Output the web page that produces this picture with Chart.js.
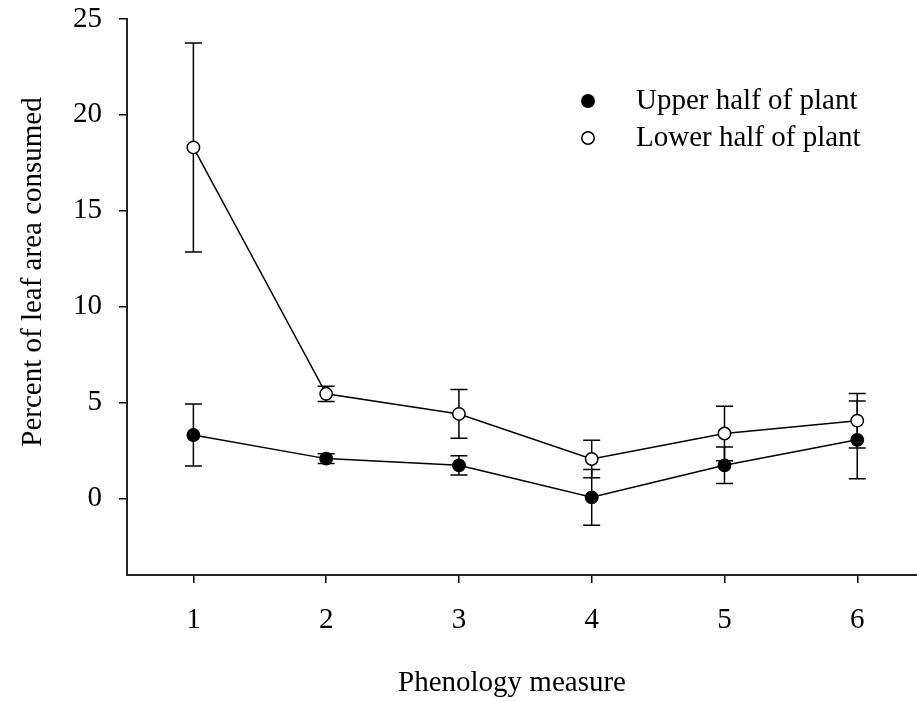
<!DOCTYPE html>
<html>
<head>
<meta charset="utf-8">
<script src="https://cdn.jsdelivr.net/npm/chart.js@4/dist/chart.umd.min.js"></script>
<style>
  html, body { margin: 0; padding: 0; background: #fff; }
  #wrap { width: 917px; height: 702px; }
</style>
</head>
<body>
<div id="wrap"><canvas id="leafChart" width="917" height="702"></canvas></div>
<script>
const phenology = [1, 2, 3, 4, 5, 6];
const upperMean = [3.3, 2.07, 1.72, 0.05, 1.72, 3.05];
const upperErr = [1.62, 0.25, 0.5, 1.45, 0.95, 2.03];
const lowerMean = [18.3, 5.45, 4.4, 2.05, 3.38, 4.05];
const lowerErr = [5.45, 0.4, 1.27, 0.98, 1.42, 1.42];
const yTicks = [0, 5, 10, 15, 20, 25];
const xTitle = "Phenology measure";
const yTitle = "Percent of leaf area consumed";

const FONT = "'Liberation Serif', 'Times New Roman', serif";
const SIZE = 29;

function toPoints(means){
    return phenology.map((x, i) => ({ x: x, y: means[i] }));
}

// vertical error bars with caps, drawn under the markers
const errorBars = {
    id: "errorBars",
    beforeDatasetsDraw(chart){
        const ctx = chart.ctx;
        const yScale = chart.scales.y;
        ctx.save();
        ctx.strokeStyle = "#000";
        ctx.lineWidth = 1.5;
        chart.data.datasets.forEach((ds, i) => {
            const meta = chart.getDatasetMeta(i);
            meta.data.forEach((pt, j) => {
                const m = ds.data[j].y;
                const e = ds.errors[j];
                const top = yScale.getPixelForValue(m + e);
                const bot = yScale.getPixelForValue(m - e);
                ctx.beginPath();
                ctx.moveTo(pt.x, top);
                ctx.lineTo(pt.x, bot);
                ctx.moveTo(pt.x - 8.5, top);
                ctx.lineTo(pt.x + 8.5, top);
                ctx.moveTo(pt.x - 8.5, bot);
                ctx.lineTo(pt.x + 8.5, bot);
                ctx.stroke();
            });
        });
        ctx.restore();
    }
};

// legend in the upper right of the plot, plus both axis titles
const annotations = {
    id: "annotations",
    afterDraw(chart){
        const ctx = chart.ctx;
        const rows = [101, 138];
        ctx.save();
        ctx.font = SIZE + "px " + FONT;
        ctx.textBaseline = "middle";
        ctx.textAlign = "left";
        chart.data.datasets.forEach((ds, i) => {
            const y = rows[i];
            ctx.beginPath();
            ctx.arc(588, y, 6.2, 0, Math.PI * 2);
            ctx.fillStyle = ds.pointBackgroundColor;
            ctx.fill();
            ctx.lineWidth = 1.5;
            ctx.strokeStyle = "#000";
            ctx.stroke();
            ctx.fillStyle = "#000";
            ctx.fillText(ds.label, 636, y);
        });

        ctx.textAlign = "center";
        ctx.fillText(xTitle, 512, 683);

        ctx.translate(33, 272);
        ctx.rotate(-Math.PI / 2);
        ctx.fillText(yTitle, 0, 0);
        ctx.restore();
    }
};

new Chart(document.getElementById("leafChart"), {
    type: "line",
    data: {
        datasets: [
            {
                label: "Upper half of plant",
                data: toPoints(upperMean),
                errors: upperErr,
                borderColor: "#000",
                borderWidth: 1.5,
                pointRadius: 6.2,
                pointBackgroundColor: "#000",
                pointBorderColor: "#000",
                pointBorderWidth: 1.5,
                tension: 0
            },
            {
                label: "Lower half of plant",
                data: toPoints(lowerMean),
                errors: lowerErr,
                borderColor: "#000",
                borderWidth: 1.5,
                pointRadius: 6.2,
                pointBackgroundColor: "#fff",
                pointBorderColor: "#000",
                pointBorderWidth: 1.5,
                tension: 0
            }
        ]
    },
    options: {
        responsive: false,
        animation: false,
        layout: { autoPadding: false, padding: { top: 19, right: 0, left: 0, bottom: 0 } },
        plugins: {
            legend: { display: false },
            tooltip: { enabled: false }
        },
        scales: {
            x: {
                type: "linear",
                min: 0.5,
                max: 6.45,
                afterFit(scale){
                    scale.height = 127;
                    scale.paddingLeft = 0;
                    scale.paddingRight = 0;
                },
                afterBuildTicks(scale){ scale.ticks = phenology.map(v => ({ value: v })); },
                grid: { drawOnChartArea: false, color: "#000", lineWidth: 1.5, tickLength: 8 },
                border: { color: "#222", width: 2 },
                ticks: { color: "#000", padding: 20, font: { family: FONT, size: SIZE } }
            },
            y: {
                min: -4,
                max: 25,
                afterFit(scale){
                    scale.width = 127;
                    scale.paddingTop = 0;
                    scale.paddingBottom = 0;
                },
                afterBuildTicks(scale){ scale.ticks = yTicks.map(v => ({ value: v })); },
                grid: { drawOnChartArea: false, color: "#000", lineWidth: 1.5, tickLength: 8 },
                border: { color: "#222", width: 2 },
                ticks: { color: "#000", padding: 17, font: { family: FONT, size: SIZE } }
            }
        }
    },
    plugins: [errorBars, annotations]
});
</script>
</body>
</html>
